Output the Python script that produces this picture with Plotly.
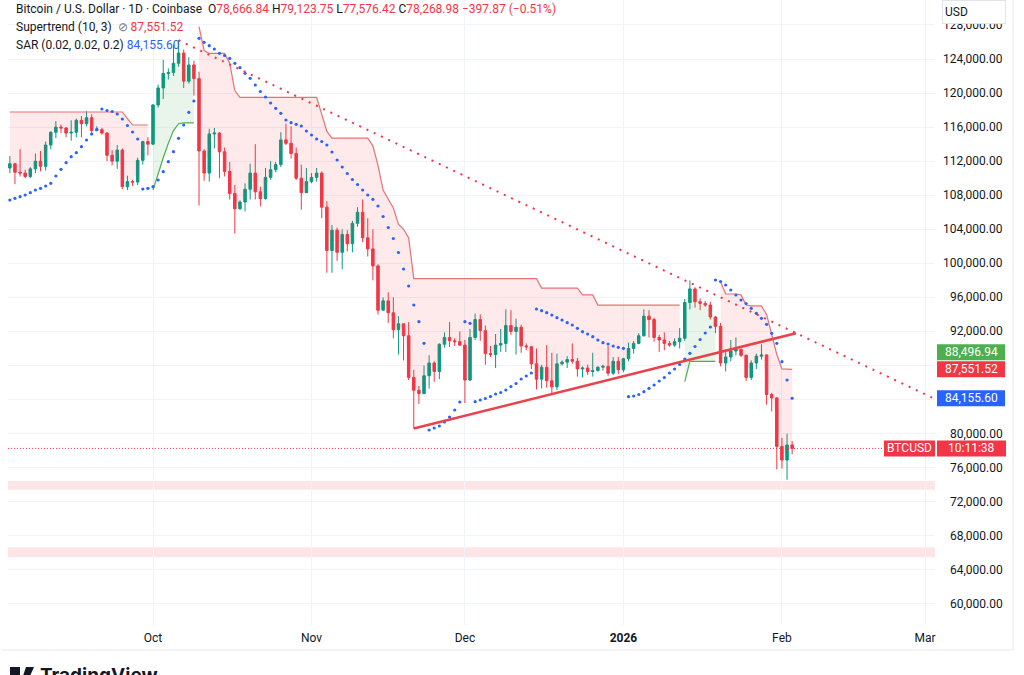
import plotly.graph_objects as go
import pandas as pd

# ---------------- DATA ----------------
start_date = "2025-09-03"
end_date = "2026-02-03"

opens = [
    # Sep 3-30
    111200, 111700, 110700, 110600, 110200, 111100, 112000, 111400, 113900, 115400, 116000, 115900, 115300, 115400,
    116800, 116400, 117100, 115600, 115700, 115300, 112700, 112000, 113300, 109000, 109600, 109550, 112100, 114300,
    # Oct
    114000, 118600, 120600, 122300, 122400, 123500, 124700, 121400, 123300, 121700, 113200, 110600, 115200, 115300,
    113100, 110800, 108200, 106400, 107200, 108700, 110600, 108400, 107600, 110100, 111000, 111600, 114500, 114100,
    112900, 110000, 108300,
    # Nov
    109600, 110100, 110600, 106600, 101500, 103900, 101300, 103400, 102300, 104700, 106000, 103000, 101700, 99700,
    94500, 95600, 94200, 92200, 92900, 91500, 86600, 85100, 84700, 86800, 88300, 87300, 90500, 91300, 90900, 90800,
    # Dec
    90400, 86300, 91300, 93400, 92100, 89400, 89300, 90400, 90600, 92700, 92000, 92500, 90300, 90200, 88200, 86400,
    87800, 86200, 85500, 88200, 88400, 88700, 88500, 87600, 87700, 87300, 87400, 87800, 87900, 87100, 88500,
    # Jan
    87500, 88800, 90000, 90600, 91500, 93800, 93400, 91300, 91000, 90600, 90400, 90800, 91200, 95400, 97000, 95500,
    95300, 95100, 93700, 92600, 88300, 89000, 89700, 89900, 89200, 86600, 88300, 89100, 89250, 84600, 84200,
    # Feb 1-3
    78500, 76900, 78666.84,
]
highs = [
    112600, 111800, 113400, 111000, 111300, 112900, 113200, 114300, 115500, 116700, 116300, 116000, 116800, 117000,
    117300, 117900, 117500, 116100, 115900, 115400, 113300, 113900, 113500, 110300, 109800, 112400, 114400, 114800,
    118700, 121000, 123900, 122900, 125700, 126200, 125100, 124200, 123800, 122500, 113400, 115800, 115900, 115400,
    113600, 111900, 109200, 107400, 109400, 111700, 114000, 109000, 111200, 112000, 111900, 115400, 116400, 116100,
    113600, 111600, 111200,
    110600, 111200, 110800, 107300, 104500, 104200, 104000, 103900, 105000, 106600, 107500, 105300, 104000, 99900,
    96000, 96600, 96000, 93800, 92900, 93100, 87500, 85600, 88000, 89200, 88500, 90600, 91900, 93100, 91200, 92000,
    91000, 92300, 94100, 94000, 92700, 90300, 91700, 92300, 94600, 94500, 93500, 92800, 90600, 90300, 90000, 88100,
    90400, 89500, 89400, 88600, 89100, 90600, 88900, 87900, 88100, 89500, 87900, 88100, 90300, 89000, 89000,
    88900, 90700, 90900, 91800, 94600, 94500, 93600, 91600, 91900, 90900, 91200, 92400, 95800, 98000, 97200, 95900,
    95600, 95500, 93800, 93000, 89900, 91000, 91300, 90000, 89300, 88600, 89400, 90500, 89300, 84800, 84300,
    79500, 80000, 79123.75,
]
lows = [
    110600, 109300, 110200, 110000, 110000, 110600, 110800, 110900, 113400, 114700, 115300, 114800, 114400, 114800,
    114800, 116100, 115100, 115500, 115100, 112000, 111500, 111100, 108700, 108600, 109100, 109200, 111600, 112700,
    113900, 118300, 119300, 121600, 122000, 123100, 120600, 121100, 119700, 106800, 109700, 109600, 113500, 110000,
    110200, 107500, 103500, 106300, 106100, 107500, 107500, 106700, 107500, 109800, 110700, 111300, 113900, 112300,
    109800, 106300, 108300,
    109400, 109600, 105300, 98900, 98900, 100300, 99300, 101400, 101300, 104300, 102500, 100800, 98000, 94000,
    94500, 93000, 91200, 89300, 88600, 86300, 80600, 83500, 84700, 85300, 86100, 86400, 90100, 90200, 90300, 90300,
    83600, 86200, 91000, 90900, 88100, 89000, 87700, 89600, 89600, 91600, 89300, 89500, 89800, 87600, 85200, 85300,
    85400, 84500, 85100, 88000, 87700, 88200, 86700, 86600, 86900, 86700, 87300, 87400, 86800, 86900, 87000,
    87200, 88500, 89400, 90500, 91400, 91300, 90800, 89600, 89800, 90200, 90200, 90000, 90900, 94600, 94800, 94500,
    94900, 93400, 91800, 87900, 87300, 88500, 89200, 89000, 86200, 86300, 87600, 88700, 83400, 82600, 75800,
    75900, 74600, 77576.42,
]
closes = [
    111700, 110700, 110600, 110200, 111100, 112000, 111400, 113900, 115400, 116000, 115900, 115300, 115400, 116800,
    116400, 117100, 115600, 115700, 115300, 112700, 112000, 113300, 109000, 109600, 109550, 112100, 114300, 114000,
    118600, 120600, 122300, 122400, 123500, 124700, 121400, 123300, 121700, 113200, 110600, 115200, 115300, 113100,
    110800, 108200, 106400, 107200, 108700, 110600, 108400, 107600, 110100, 111000, 111600, 114500, 114100, 112900,
    110000, 108300, 109600,
    110100, 110600, 106600, 101500, 103900, 101300, 103400, 102300, 104700, 106000, 103000, 101700, 99700, 94500,
    95600, 94200, 92200, 92900, 91500, 86600, 85100, 84700, 86800, 88300, 87300, 90500, 91300, 90900, 90800, 90400,
    86300, 91300, 93400, 92100, 89400, 89300, 90400, 90600, 92700, 92000, 92500, 90300, 90200, 88200, 86400, 87800,
    86200, 85500, 88200, 88400, 88700, 88500, 87600, 87700, 87300, 87400, 87800, 87900, 87100, 88500, 87500,
    88800, 90000, 90600, 91500, 93800, 93400, 91300, 91000, 90600, 90400, 90800, 91200, 95400, 97000, 95500, 95300,
    95100, 93700, 92600, 88300, 89000, 89700, 89900, 89200, 86600, 88300, 89100, 89250, 84600, 84200, 78500,
    76900, 78666.85, 78268.98,
]

# Supertrend (10, 3) values, one per bar
supertrend = [
    # Sep 3-30
    117776, 117776, 117776, 117776, 117776, 117776, 117776, 117776, 117776, 117776, 117776, 117776, 117776, 117776,
    117776, 117776, 117776, 117776, 117776, 117776, 117776, 117776, 117776, 117000, 116249, 116249, 116249, 116249,
    # Oct 1-9 (up)
    108600, 110600, 112400, 114100, 115600, 116400, 116500, 116500, 116500,
    # Oct 10-31
    127800, 125000, 124650, 124650, 124650, 124650, 123500, 120300, 119500, 119500, 119500, 119500, 119500, 119500,
    119500, 119500, 119500, 119500, 119500, 119500, 119500, 119500,
    # Nov
    119500, 119500, 117500, 115500, 114700, 114700, 114700, 114700, 114700, 114700, 114700, 114700, 113800, 111500,
    108600, 107500, 106500, 104600, 104000, 103000, 98200, 98200, 98200, 98200, 98200, 98200, 98200, 98200, 98200, 98200,
    # Dec
    98200, 98200, 98200, 98200, 98200, 98200, 98200, 98200, 98200, 98200, 98200, 98200, 98200, 98200, 98200, 97100,
    97100, 97100, 97100, 97100, 97100, 97100, 97100, 96300, 96300, 96300, 95100, 95100, 95100, 95100, 95100,
    # Jan 1-12
    95100, 95100, 95100, 95100, 95100, 95100, 95100, 95100, 95100, 95100, 95100, 95100,
    # Jan 13-19 (up)
    86100, 88500, 88500, 88500, 88500, 88500, 88500,
    # Jan 20 - Feb 3
    97850, 96400, 96400, 96400, 96300, 95100, 95000, 95000, 95000, 94000, 91600, 89300, 87600, 87551.52, 87551.52,
]
st_segments = [
    ("2025-09-03", "2025-09-30", "down"),
    ("2025-10-01", "2025-10-09", "up"),
    ("2025-10-10", "2026-01-12", "down"),
    ("2026-01-13", "2026-01-19", "up"),
    ("2026-01-20", "2026-02-03", "down"),
]

# Parabolic SAR (0.02, 0.02, 0.2), one dot per bar
sar = [
    107441, 107641, 107829, 108028, 108298, 108615, 108815, 109085, 109402, 110260, 111046, 111822, 112526, 112996,
    113701, 114487, 115192, 115744,
    118128, 117952, 117835, 117541, 116954, 116191, 115428, 114605,
    108733, 108815, 109003, 109790, 110765, 111939, 113113, 114687, 116249, 117740, 119067,
    126431, 125961, 125562, 125175, 124670, 124411, 124082, 123495, 122978, 122321, 121734, 120947, 120183, 119537,
    118833, 118211, 117623, 116836, 116519, 116331, 116131, 115544,
    115075, 114605, 114311, 113900, 113078, 112139, 111317, 110553, 109849, 109262, 108615, 108028, 107523, 106736,
    105503, 104211, 102919, 101275, 99338, 97341, 95110, 93148, 90612,
    80429, 80664, 80899, 81369, 81956, 82778, 83717,
    93148, 92960,
    83753, 83953, 84129, 84364, 84657, 84833, 85127, 85538, 85890, 86419, 86771, 87123,
    94640, 94440, 94205, 93935, 93618, 93348, 93031, 92761, 92373, 91974, 91704, 91387, 90999, 90682, 90529, 90294,
    90142, 90024,
    84340, 84422, 84598, 84927, 85326, 85714, 86183, 86594, 87123, 87592, 88121, 88767, 89436, 90235, 91057, 91820,
    92525,
    98046, 97870, 97459, 96872, 96285, 95697, 95286, 94723, 94136, 93549, 92844, 91787, 90613, 88452, 86302, 84155.60,
]

# Drawn trend lines and zones
down_line_dates = ["2025-10-06", "2026-03-02 20:00"]
down_line_vals = [126200, 84100]
up_line_dates = ["2025-11-21", "2026-02-03 18:00"]
up_line_vals = [80600, 91800]
zones = [(73400, 74450), (65500, 66650)]

price_ticks = [60000, 64000, 68000, 72000, 76000, 80000, 84000, 88000, 92000, 96000, 100000, 104000, 108000,
               112000, 116000, 120000, 124000, 128000]
month_ticks = ["2025-10-01", "2025-11-01", "2025-12-01", "2026-01-01", "2026-02-01", "2026-03-01"]
month_labels = ["Oct", "Nov", "Dec", "<b>2026</b>", "Feb", "Mar"]

extra_label_value = 88496.94
countdown = "10:11:38"
symbol = "BTCUSD"

# ---------------- STYLE ----------------
W, H = 1024, 675
PL, PR, PT, PB = 8, 935, 0, 625
Y_TOP, Y_BOT = 130929, 57529
X_LEFT, X_RIGHT = "2025-09-02 15:20", "2026-03-02 22:30"
FONT = "Roboto"
TEXT = "#131722"
GREEN = "#089981"
RED = "#F23645"
BLUE = "#2962FF"
GRID = "#F0F3FA"


def px_x(p):
    return (p - PL) / (PR - PL)


def px_y(p):
    return 1 - (p - PT) / (PB - PT)


def val_px(v):
    return PT + (Y_TOP - v) / (Y_TOP - Y_BOT) * (PB - PT)


dates = pd.date_range(start_date, end_date, freq="D")
body_mid = [(o + c) / 2 for o, c in zip(opens, closes)]

fig = go.Figure()

# supertrend fills (behind candles)
for s, e, kind in st_segments:
    idx = [i for i, d in enumerate(dates) if pd.Timestamp(s) <= d <= pd.Timestamp(e)]
    dx = [dates[i] for i in idx]
    fig.add_trace(go.Scatter(x=dx, y=[body_mid[i] for i in idx], mode="lines", line=dict(width=0),
                             hoverinfo="skip", showlegend=False))
    fig.add_trace(go.Scatter(x=dx, y=[supertrend[i] for i in idx], mode="lines", line=dict(width=0),
                             fill="tonexty",
                             fillcolor="rgba(242,54,69,0.11)" if kind == "down" else "rgba(76,175,80,0.12)",
                             hoverinfo="skip", showlegend=False))

fig.add_trace(go.Candlestick(
    x=dates, open=opens, high=highs, low=lows, close=closes,
    increasing=dict(line=dict(color=GREEN, width=1), fillcolor=GREEN),
    decreasing=dict(line=dict(color=RED, width=1), fillcolor=RED),
    whiskerwidth=0, showlegend=False, hoverinfo="skip"))

# supertrend lines
for s, e, kind in st_segments:
    idx = [i for i, d in enumerate(dates) if pd.Timestamp(s) <= d <= pd.Timestamp(e)]
    fig.add_trace(go.Scatter(x=[dates[i] for i in idx], y=[supertrend[i] for i in idx], mode="lines",
                             line=dict(width=1.2, color="#E57373" if kind == "down" else "#4CAF50"),
                             hoverinfo="skip", showlegend=False))

# SAR dots
fig.add_trace(go.Scatter(x=dates, y=sar, mode="markers", marker=dict(size=3.2, color=BLUE),
                         hoverinfo="skip", showlegend=False))

# trend lines
fig.add_trace(go.Scatter(x=down_line_dates, y=down_line_vals, mode="lines",
                         line=dict(color=RED, width=2, dash="2px,6px"), hoverinfo="skip", showlegend=False))
fig.add_trace(go.Scatter(x=up_line_dates, y=up_line_vals, mode="lines",
                         line=dict(color="#E8434B", width=2.5), hoverinfo="skip", showlegend=False))

shapes = []
for lo, hi in zones:
    shapes.append(dict(type="rect", xref="paper", yref="y", x0=0, x1=1, y0=lo, y1=hi,
                       fillcolor="rgba(242,54,69,0.13)", line=dict(width=0), layer="below"))
# current price dotted line
last_close = closes[-1]
shapes.append(dict(type="line", xref="paper", yref="y", x0=0, x1=px_x(884), y0=last_close, y1=last_close,
                   line=dict(color=RED, width=1, dash="1px,2px")))
# frame
shapes.append(dict(type="line", xref="paper", yref="paper", x0=px_x(2), x1=px_x(1013), y0=px_y(650), y1=px_y(650),
                   line=dict(color="#E6E8EE", width=1)))
shapes.append(dict(type="line", xref="paper", yref="paper", x0=px_x(1013), x1=px_x(1013), y0=px_y(0), y1=px_y(650),
                   line=dict(color="#E6E8EE", width=1)))

annotations = []
st_last = supertrend[-1]
sar_last = sar[-1]
box_centers = [val_px(st_last) - 17, val_px(st_last), val_px(sar_last), val_px(last_close)]

# price scale labels (hidden where a coloured price box sits on top, as on the original)
for v in price_ticks:
    if any(abs(val_px(v) - bc) < 12 for bc in box_centers):
        continue
    annotations.append(dict(xref="paper", yref="y", x=px_x(1005), y=v, xanchor="right", yanchor="middle",
                            text=f"{v:,.2f}", showarrow=False, font=dict(family=FONT, size=12, color=TEXT)))


def price_box(center_px, text, color, x0=937, x1=1005):
    shapes.append(dict(type="rect", xref="paper", yref="paper", x0=px_x(x0), x1=px_x(x1),
                       y0=px_y(center_px + 8), y1=px_y(center_px - 8), fillcolor=color,
                       line=dict(width=0)))
    annotations.append(dict(xref="paper", yref="paper", x=px_x((x0 + x1) / 2), y=px_y(center_px),
                            xanchor="center", yanchor="middle", text=text, showarrow=False,
                            font=dict(family=FONT, size=12, color="white")))


price_box(box_centers[0], f"{extra_label_value:,.2f}", "#4CAF50")
price_box(box_centers[1], f"{st_last:,.2f}", RED)
price_box(box_centers[2], f"{sar_last:,.2f}", BLUE)
price_box(box_centers[3], symbol, RED, 884, 935)
price_box(box_centers[3], countdown, RED, 937, 1006)

# USD box as an annotation drawn after the price labels, so it covers the top of the highest one
annotations.append(dict(xref="paper", yref="paper", x=px_x(974), y=px_y(12), xanchor="center", yanchor="middle",
                        text="USD", align="left", width=58, height=18, bgcolor="white",
                        bordercolor="#E0E3EB", borderwidth=1, borderpad=2, showarrow=False,
                        font=dict(family=FONT, size=12, color=TEXT)))

# legend header
o, h, l, c = opens[-1], highs[-1], lows[-1], closes[-1]
chg = c - closes[-2]
pct = chg / closes[-2] * 100
r = f"<span style='color:{RED}'>"
line1 = (f"Bitcoin / U.S. Dollar · 1D · Coinbase  O{r}{o:,.2f}</span> H{r}{h:,.2f}</span> "
         f"L{r}{l:,.2f}</span> C{r}{c:,.2f}</span> {r}−{abs(chg):,.2f} (−{abs(pct):.2f}%)</span>")
line2 = f"Supertrend (10, 3)  <span style='color:#787B86'>⊘</span> {r}{st_last:,.2f}</span>"
line3 = f"SAR (0.02, 0.02, 0.2) <span style='color:{BLUE}'>{sar_last:,.2f}</span>"
for txt, yc in [(line1, 9), (line2, 27), (line3, 45)]:
    annotations.append(dict(xref="paper", yref="paper", x=px_x(14), y=px_y(yc), xanchor="left", yanchor="middle",
                            text=txt, showarrow=False, font=dict(family=FONT, size=12, color=TEXT)))

# TradingView logo (cut off at the bottom edge, as on the original)
annotations.append(dict(xref="paper", yref="paper", x=px_x(38), y=px_y(662), xanchor="left", yanchor="top",
                        text="<b>TradingView</b>", showarrow=False,
                        font=dict(family="Inter", size=19, color=TEXT)))
shapes.append(dict(type="rect", xref="paper", yref="paper", x0=px_x(10), x1=px_x(20), y0=px_y(676), y1=px_y(667),
                   fillcolor=TEXT, line=dict(width=0)))
shapes.append(dict(type="path", xref="paper", yref="paper",
                   path=f"M {px_x(26)},{px_y(667)} L {px_x(34)},{px_y(667)} L {px_x(30)},{px_y(676)} "
                        f"L {px_x(23)},{px_y(676)} Z", fillcolor=TEXT, line=dict(width=0)))

fig.update_layout(
    width=W, height=H,
    margin=dict(l=PL, r=W - PR, t=PT, b=H - PB),
    paper_bgcolor="white", plot_bgcolor="white",
    showlegend=False, hovermode=False,
    xaxis=dict(type="date", range=[X_LEFT, X_RIGHT], rangeslider=dict(visible=False),
               tickvals=month_ticks, ticktext=month_labels, showgrid=True, gridcolor=GRID, gridwidth=1,
               zeroline=False, showline=False, ticks="", ticklabelstandoff=4,
               tickfont=dict(family=FONT, size=12, color=TEXT)),
    yaxis=dict(range=[Y_BOT, Y_TOP], tickvals=price_ticks, showticklabels=False, showgrid=True,
               gridcolor=GRID, gridwidth=1, zeroline=False, showline=False),
    shapes=shapes, annotations=annotations,
)

fig.write_html("out.html", config={"displayModeBar": False})
